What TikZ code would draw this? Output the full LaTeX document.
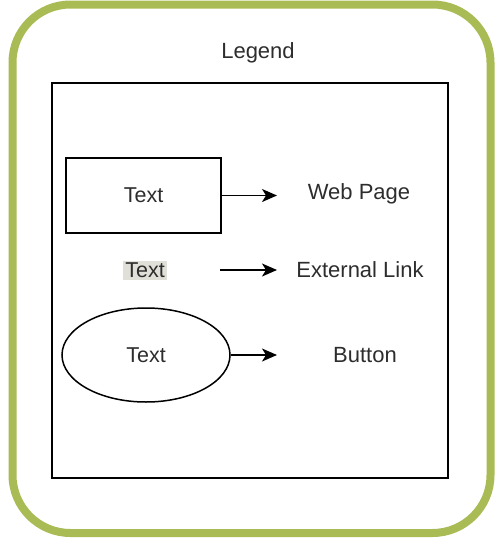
\documentclass[tikz,border=0pt]{standalone}
\usepackage{fontspec}
\setmainfont{Liberation Sans}
\usepackage{xcolor}
\usetikzlibrary{shapes.geometric, arrows.meta, positioning}
\definecolor{legendgreen}{RGB}{169,187,85}
\definecolor{labelgray}{RGB}{224,224,216}
\definecolor{textgray}{RGB}{45,45,45}
\begin{document}
\begin{tikzpicture}[x=1pt,y=-1pt]
\tikzstyle{page} = [rectangle, minimum width=155pt, minimum height=75pt, draw=black, line width=1.5pt, text=textgray, font=\fontsize{21.5}{25}\selectfont]
\tikzstyle{button} = [ellipse, minimum width=168pt, minimum height=94pt, draw=black, line width=1.5pt, text=textgray, font=\fontsize{21.5}{25}\selectfont]
\tikzstyle{link} = [rectangle, fill=labelgray, inner sep=2pt, text=textgray, font=\fontsize{21.5}{25}\selectfont]
\tikzstyle{label} = [text=textgray, font=\fontsize{22}{26}\selectfont]
\tikzstyle{arrow} = [line width=1.5pt,-{Stealth[length=15pt,width=13pt,inset=4pt]}]

\useasboundingbox (0,0) rectangle (501,541);

% outer frame and legend box
\draw [legendgreen, line width=8pt, rounded corners=58pt] (12.5,4.5) rectangle (490.5,533);
\node (legend) [label] at (258,53) {Legend};
\draw [line width=1.5pt] (52,83) rectangle (448,478);

% symbols
\node (webbox) [page] at (143.5,195.5) {Text};
\node (linktext) [link] at (145,270) {Text};
\node (buttonshape) [button] at (146,355) {Text};

% meanings
\node (webpage) [label] at (359,194) {Web Page};
\node (extlink) [label] at (360,270) {External Link};
\node (btn) [label] at (365,355) {Button};

\coordinate (webend) at (277,195.5);
\coordinate (linkstart) at (220,270);
\coordinate (linkend) at (277,270);
\coordinate (btnend) at (277,355);

\draw [arrow] (webbox.east) -- (webend);
\draw [arrow] (linkstart) -- (linkend);
\draw [arrow] (buttonshape.east) -- (btnend);
\end{tikzpicture}
\end{document}
